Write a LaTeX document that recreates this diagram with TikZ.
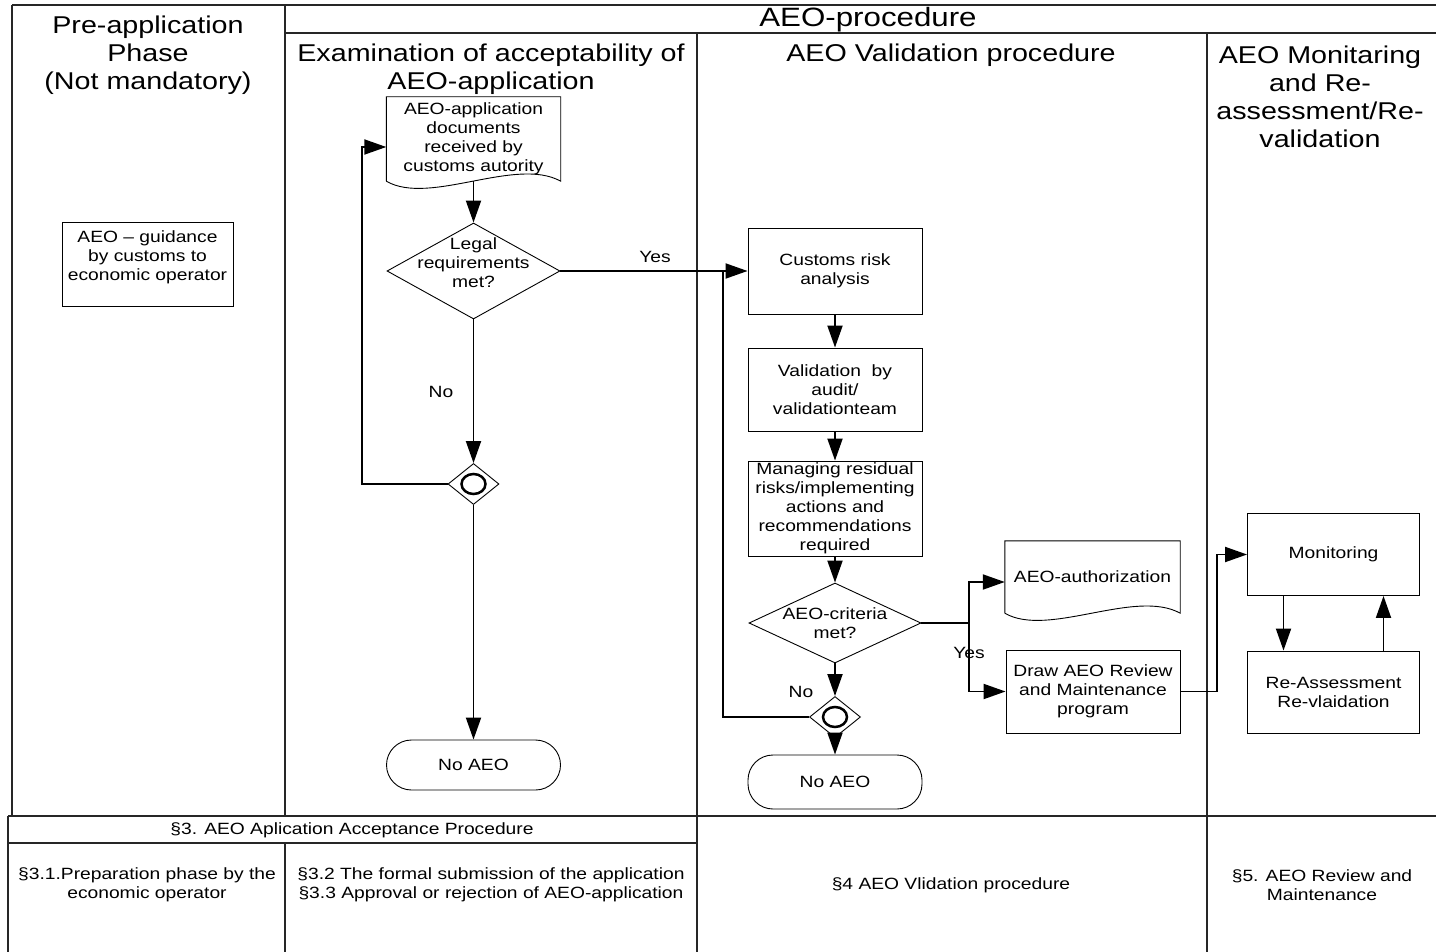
\documentclass[tikz,border=0pt]{standalone}
\usepackage{fontspec}
\setmainfont[FakeStretch=1.18]{Liberation Sans}
\usetikzlibrary{arrows.meta,shapes.geometric}
\newcommand{\stepfont}{\fontsize{16.3}{19}\selectfont}
\newcommand{\lanefont}{\fontsize{24.3}{28}\selectfont}

\begin{document}
\begin{tikzpicture}[x=1pt,y=-1pt]
\tikzstyle{every node}=[inner sep=1pt, align=center, font=\stepfont]
\tikzstyle{lane}=[line width=1.3pt, black!85]
\tikzstyle{box}=[draw, line width=0.9pt, minimum width=174pt]
\tikzstyle{doc}=[minimum width=174pt]
\tikzstyle{dec}=[draw, diamond, line width=0.9pt, inner sep=0pt]
\tikzstyle{merge}=[draw, diamond, line width=0.9pt, inner sep=0pt, minimum width=51pt, minimum height=41pt]
\tikzstyle{term}=[draw, line width=0.9pt, rounded corners=25pt, minimum width=174pt]
\tikzstyle{wire}=[line width=1.9pt]
\tikzstyle{flow}=[line width=1.9pt, -{Triangle[length=22pt,width=15pt]}]
\useasboundingbox (0,0) rectangle (1438,952);
% swimlanes
\draw[lane] (12,5) -- (1436,5);
\draw[lane] (12,5) -- (12,816);
\draw[lane] (285,5) -- (285,816);
\draw[lane] (285,33) -- (1436,33);
\draw[lane] (697,33) -- (697,952);
\draw[lane] (1207,33) -- (1207,952);
\draw[lane] (8,816) -- (1436,816);
\draw[lane] (8,816) -- (8,952);
\draw[lane] (8,843) -- (697,843);
\draw[lane] (285,843) -- (285,952);
\draw (148,55) node (prehead) [font=\lanefont] {Pre-application\\Phase\\(Not mandatory)};
\draw (868,20) node (prochead) [font=\fontsize{26.5}{30}\selectfont] {AEO-procedure};
\draw (491,69) node (exhead) [font=\lanefont] {Examination of acceptability of\\AEO-application};
\draw (951,55) node (valhead) [font=\lanefont] {AEO Validation procedure};
\draw (1320,97) node (monhead) [font=\lanefont] {AEO Monitaring\\and Re-\\assessment/Re-\\validation};
\draw (352,830) node (sec3) {§3. AEO Aplication Acceptance Procedure};
\draw (147,885) node (sec31) {§3.1.Preparation phase by the\\economic operator};
\draw (491,885) node (sec32) {§3.2 The formal submission of the application\\§3.3 Approval or rejection of AEO-application};
\draw (951,885) node (sec4) {§4 AEO Vlidation procedure};
\draw (1322,885) node (sec5) {§5. AEO Review and\\Maintenance};
% steps
\draw (147.5,264) node (guide) [box, minimum width=171pt, minimum height=84pt, label={[yshift=7pt]center:AEO – guidance\\by customs to\\economic operator}] {};
\draw (473.5,139) node (doc1) [doc, minimum height=84pt] {AEO-application\\documents\\received by\\customs autority};
\draw[line width=0.9pt] (doc1.south west) -- (doc1.north west) -- (doc1.north east) -- (doc1.south east) .. controls ([xshift=-45pt,yshift=25pt]doc1.south east) and ([xshift=43pt,yshift=-25pt]doc1.south west) .. (doc1.south west);
\draw (473.5,271) node (legal) [dec, minimum width=173pt, minimum height=96pt, label={[yshift=8pt]center:Legal\\requirements\\met?}] {};
\draw (473.5,484) node (cd1) [merge] {};
\draw[line width=2.5pt] (cd1) ellipse (12pt and 10pt);
\draw (473.5,765) node (noaeo1) [term, minimum height=50pt] {No AEO};
\draw (835,271) node (customs) [box, minimum height=86pt] {Customs risk\\analysis};
\draw (835,389.5) node (valid) [box, minimum height=83pt] {Validation~ by\\audit/\\validationteam};
\draw (835,508.5) node (manage) [box, minimum height=95pt] {Managing residual\\risks/implementing\\actions and\\recommendations\\required};
\draw (835,623) node (crit) [dec, minimum width=172pt, minimum height=80pt, label={center:AEO-criteria\\met?}] {};
\draw (835,717) node (cd2) [merge] {};
\draw[line width=2.5pt] (cd2) ellipse (12pt and 10pt);
\draw (835,782) node (noaeo2) [term, minimum height=54pt] {No AEO};
\draw (1092.5,577) node (auth) [doc, minimum width=175pt, minimum height=72pt] {AEO-authorization};
\draw[line width=0.9pt] (auth.south west) -- (auth.north west) -- (auth.north east) -- (auth.south east) .. controls ([xshift=-45pt,yshift=25pt]auth.south east) and ([xshift=43pt,yshift=-25pt]auth.south west) .. (auth.south west);
\draw (1093,691.5) node (drawrev) [box, minimum height=83pt] {Draw AEO Review\\and Maintenance\\program};
\draw (1333.5,554.5) node (monitor) [box, minimum width=172pt, minimum height=82pt] {Monitoring};
\draw (1333.5,692) node (reass) [box, minimum width=172pt, minimum height=82pt] {Re-Assessment\\Re-vlaidation};
% labels
\draw (655,257) node (yes1) {Yes};
\draw (441,392) node (no1) {No};
\draw (969,653) node (yes2) {Yes};
\draw (801,692) node (no2) {No};
% connectors
\coordinate (loop1) at (362,147);
\coordinate (loop2) at (723,271);
\coordinate (split) at (969,623);
\coordinate (hop) at (1217,691.5);
\draw[flow] (doc1) -- (legal);
\draw[flow] (legal) -- (cd1);
\draw[flow] (cd1) -- (noaeo1);
\draw[flow] (cd1.west) -| (loop1) -- (loop1 -| doc1.west);
\draw[flow] (legal.east) -- (customs.west);
\draw[wire] (cd2.west) -| (loop2);
\draw[flow] (customs) -- (valid);
\draw[flow] (valid) -- (manage);
\draw[flow] (manage) -- (crit);
\draw[flow] (crit) -- (cd2);
\draw[flow] (cd2) -- (noaeo2);
\draw[wire] (crit.east) -- (split);
\draw[flow] (split) |- ([yshift=-5pt]auth.west);
\draw[flow] (split) |- (drawrev.west);
\draw[flow] (drawrev.east) -- (hop) |- (monitor.west);
\draw[flow] ([xshift=-50pt]monitor.south) -- ([xshift=-50pt]reass.north);
\draw[flow] ([xshift=50pt]reass.north) -- ([xshift=50pt]monitor.south);
\end{tikzpicture}
\end{document}
